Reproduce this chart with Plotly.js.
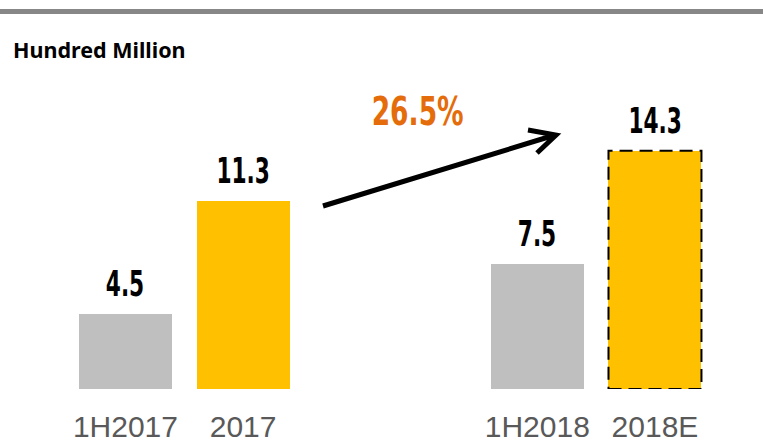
<!DOCTYPE html>
<html><head><meta charset="utf-8">
<script src="https://cdn.plot.ly/plotly-3.0.1.min.js"></script>
<style>html,body{margin:0;padding:0;background:#fff}#chart{width:763px;height:442px}</style>
</head><body><div id="chart"></div>
<script>
const categories = ["1H2017", "2017", "1H2018", "2018E"];
const values = [4.5, 11.3, 7.5, 14.3];
const xPositions = [0, 1, 3.5, 4.5];
const barColors = ["#BFBFBF", "#FFC000", "#BFBFBF", "#FFC000"];
const growthLabel = "26.5%";
const unitLabel = "Hundred Million";

const W = 763, H = 442, B = 53;
const plotH = H - B;
const barW = 0.79;
const xr = [-1.066, 5.418];
const yr = [0, 23.36];
const px2x = p => xr[0] + p / W * (xr[1] - xr[0]);
const py2y = p => yr[0] + (plotH - p) / plotH * (yr[1] - yr[0]);

const trace = {
  type: "bar", x: xPositions, y: values, width: barW,
  marker: {color: barColors, line: {width: 0}},
  hoverinfo: "skip"
};

const numFont = {family: "DejaVu Sans", size: 35, color: "#000", weight: "bold"};

const annotations = values.map((v, i) => ({
  x: xPositions[i], y: v, xref: "x", yref: "y", text: "<b>" + v.toFixed(1) + "</b>",
  showarrow: false, yanchor: "bottom", yshift: 8, font: numFont
}));
annotations.push({
  xref: "paper", yref: "paper", x: 11 / W, y: 1 - 49 / plotH, xanchor: "left", yanchor: "middle",
  text: "<b>" + unitLabel + "</b>", showarrow: false,
  font: {family: "Noto Sans, Open Sans, sans-serif", size: 21.5, color: "#000"}
});
annotations.push({
  x: px2x(417), y: py2y(111), xref: "x", yref: "y", text: "<b>" + growthLabel + "</b>",
  showarrow: false, font: Object.assign({}, numFont, {size: 39, color: "#E46C0A"})
});

const shapes = [
  {type: "rect", xref: "paper", yref: "paper", x0: 0, x1: 1, y0: 1 - 14 / plotH, y1: 1 - 9 / plotH,
   fillcolor: "#878787", line: {width: 0}},
  {type: "rect", xref: "x", yref: "y", x0: xPositions[3] - barW / 2, x1: xPositions[3] + barW / 2,
   y0: 0, y1: values[3], line: {color: "#000", width: 2, dash: "13px,7px"}, fillcolor: "rgba(0,0,0,0)"},
  {type: "path", xref: "x", yref: "y",
   path: `M ${px2x(323)},${py2y(206)} L ${px2x(555)},${py2y(135)} M ${px2x(528)},${py2y(130)} L ${px2x(556)},${py2y(135)} L ${px2x(537)},${py2y(153)}`,
   line: {color: "#000", width: 5}}
];

const layout = {
  width: W, height: H, margin: {l: 0, r: 0, t: 0, b: B},
  paper_bgcolor: "#fff", plot_bgcolor: "#fff", showlegend: false,
  xaxis: {range: xr, tickvals: xPositions, ticktext: categories, showgrid: false, zeroline: false,
          showline: false, ticks: "outside", ticklen: 11, tickcolor: "rgba(0,0,0,0)",
          tickfont: {family: "Liberation Sans, Arial, sans-serif", size: 30, color: "#595959"}, fixedrange: true},
  yaxis: {range: yr, visible: false, showgrid: false, zeroline: false, fixedrange: true},
  annotations: annotations, shapes: shapes, bargap: 0
};

function condense() {
  document.querySelectorAll("#chart .annotation text").forEach(t => {
    const s = t.textContent;
    let k = null;
    if (s === growthLabel) k = 0.68;
    else if (values.some(v => v.toFixed(1) === s)) k = 0.62;
    if (k === null) return;
    const bb = t.getBBox();
    const cx = bb.x + bb.width / 2;
    t.setAttribute("transform", `translate(${cx},0) scale(${k},1) translate(${-cx},0)`);
  });
}

Plotly.newPlot("chart", [trace], layout, {displayModeBar: false, staticPlot: true}).then(condense);
</script></body></html>
